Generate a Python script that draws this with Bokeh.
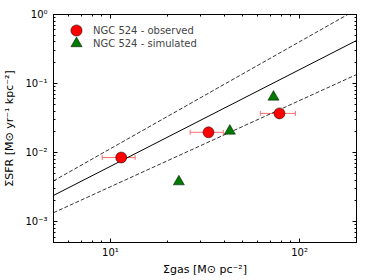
from bokeh.plotting import figure
from bokeh.models import (ColumnDataSource, Range1d, LogAxis, FixedTicker, Whisker, TeeHead,
                          Legend, LegendItem, CustomJSTickFormatter)
from bokeh.embed import file_html
from bokeh.resources import INLINE

# ---- data ----
ks_gas = [5, 200]
ks_sfr = [2.4e-3, 0.42]
ks_sfr_upper = [3.9e-3, 1.18]
ks_sfr_lower = [1.35e-3, 0.135]

obs_gas = [11.4, 33.0, 78.3]
obs_sfr = [0.0085, 0.0197, 0.037]
obs_gas_lo = [9.05, 26.4, 62.0]
obs_gas_hi = [13.5, 39.5, 95.0]

sim_gas = [23.0, 42.8, 72.8]
sim_sfr = [0.0038, 0.0206, 0.064]

obs_label = "NGC 524 - observed"
sim_label = "NGC 524 - simulated"
x_title = "Σgas [M⊙ pc⁻²]"
y_title = "ΣSFR [M⊙ yr⁻¹ kpc⁻²]"

x_major = [10, 100]
x_minor = [5, 6, 7, 8, 9, 20, 30, 40, 50, 60, 70, 80, 90, 200]
y_major = [0.001, 0.01, 0.1, 1]
y_minor = [m * d for d in (0.0001, 0.001, 0.01, 0.1) for m in range(2, 10)]

FONT = "DejaVu Sans"

p = figure(width=366, height=278, x_axis_type="log", y_axis_type="log",
           x_range=Range1d(5, 200), y_range=Range1d(5e-4, 1),
           output_backend="svg", toolbar_location=None,
           min_border_left=49, min_border_right=10, min_border_top=14, min_border_bottom=35)
p.grid.visible = False
p.outline_line_color = "black"
p.outline_line_width = 1
p.background_fill_color = "white"
p.border_fill_color = "white"

fmt = CustomJSTickFormatter(code="""
const e = Math.round(Math.log10(tick));
const m = {'-':'\\u207b','0':'\\u2070','1':'\\u00b9','2':'\\u00b2','3':'\\u00b3','4':'\\u2074'};
return '10' + String(e).split('').map(c => m[c]).join('');
""")
blank = CustomJSTickFormatter(code="return '';")

def style_axis(ax, ticker, labels=True):
    ax.ticker = ticker
    ax.major_tick_in = 4
    ax.major_tick_out = 0
    ax.minor_tick_in = 2
    ax.minor_tick_out = 0
    ax.major_tick_line_color = "black"
    ax.minor_tick_line_color = "black"
    ax.axis_line_color = "black"
    ax.major_label_text_font = FONT
    ax.major_label_text_font_size = "10px"
    ax.major_label_text_color = "black"
    ax.axis_label_text_font = FONT
    ax.axis_label_text_font_size = "11px"
    ax.axis_label_text_font_style = "normal"
    ax.axis_label_text_color = "black"
    if labels:
        ax.formatter = fmt
    else:
        ax.formatter = blank
        ax.major_label_standoff = 0

xt = FixedTicker(ticks=x_major, minor_ticks=x_minor)
yt = FixedTicker(ticks=y_major, minor_ticks=y_minor)

for ax in p.xaxis:
    style_axis(ax, xt)
    ax.major_label_standoff = 4
    ax.axis_label = x_title
    ax.axis_label_standoff = 2
for ax in p.yaxis:
    style_axis(ax, yt)
    ax.major_label_standoff = 6
    ax.axis_label = y_title
    ax.axis_label_standoff = 6

top = LogAxis()
right = LogAxis()
style_axis(top, xt, labels=False)
style_axis(right, yt, labels=False)
p.add_layout(top, "above")
p.add_layout(right, "right")

# ---- relation lines ----
p.line(ks_gas, ks_sfr, line_color="black", line_width=1)
p.line(ks_gas, ks_sfr_upper, line_color="black", line_width=0.8, line_dash="4 2")
p.line(ks_gas, ks_sfr_lower, line_color="black", line_width=0.8, line_dash="4 2")

# ---- observed with error bars ----
obs_src = ColumnDataSource(dict(x=obs_gas, y=obs_sfr, lo=obs_gas_lo, hi=obs_gas_hi))
wh = Whisker(source=obs_src, base="y", lower="lo", upper="hi", dimension="width",
             line_color="#ff7070", line_width=1,
             lower_head=TeeHead(size=5, line_color="#ff7070", line_width=1),
             upper_head=TeeHead(size=5, line_color="#ff7070", line_width=1))
p.add_layout(wh)
r_obs = p.scatter("x", "y", source=obs_src, marker="circle", size=11,
                  fill_color="red", line_color="black", line_width=0.5)

sim_src = ColumnDataSource(dict(x=sim_gas, y=sim_sfr))
r_sim = p.scatter("x", "y", source=sim_src, marker="triangle", size=11,
                  fill_color="#007a00", line_color="black", line_width=0.5)

FRAME_H = 229
for item, row_center in ((LegendItem(label=obs_label, renderers=[r_obs]), 17),
                         (LegendItem(label=sim_label, renderers=[r_sim]), 30)):
    lg = Legend(items=[item], location=(6, FRAME_H - row_center - 14),
                glyph_width=34, glyph_height=28, label_height=28, spacing=0,
                padding=0, margin=0, label_standoff=0,
                label_text_font=FONT, label_text_font_size="10px",
                background_fill_alpha=0, border_line_alpha=0)
    p.add_layout(lg)

open("out.html", "w").write(file_html(p, INLINE))
